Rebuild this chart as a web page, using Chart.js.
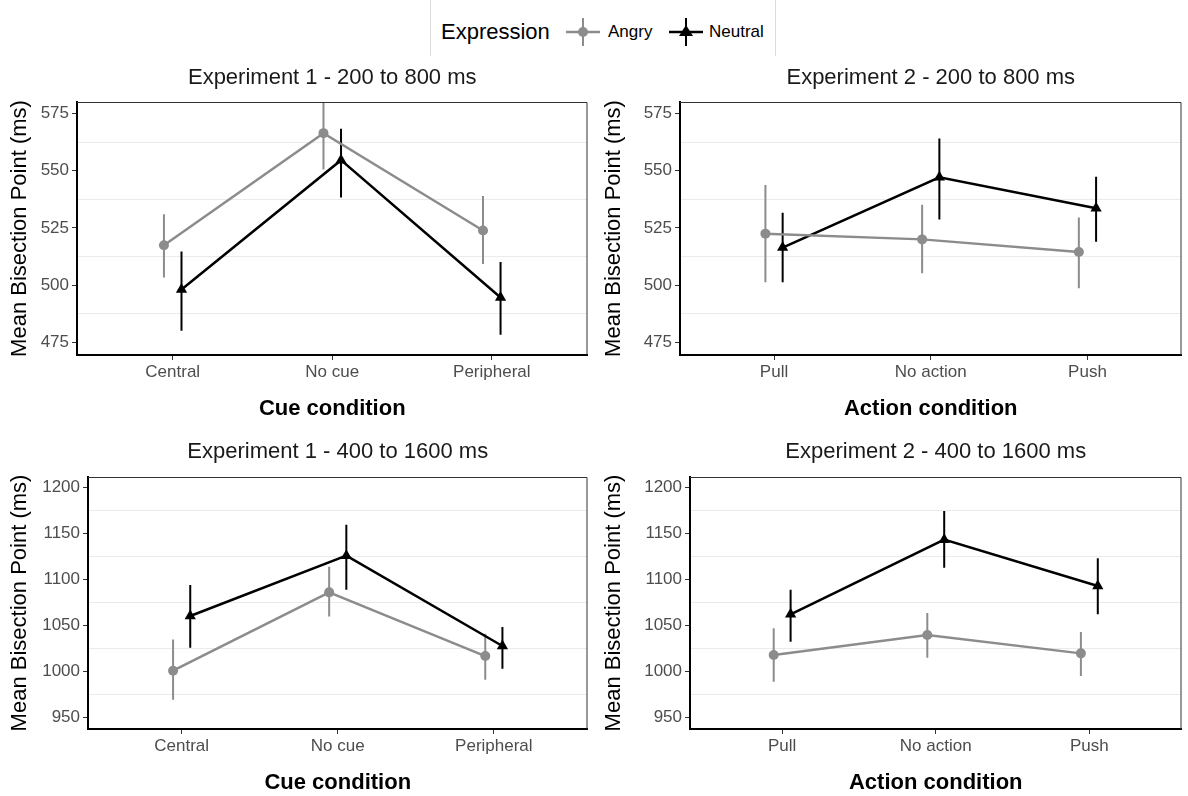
<!DOCTYPE html>
<html>
<head>
<meta charset="utf-8">
<script src="https://cdn.jsdelivr.net/npm/chart.js@4.4.1/dist/chart.umd.min.js"></script>
<style>
  body { margin: 0; background: #fff; width: 1188px; height: 796px; position: relative; overflow: hidden; font-family: "Liberation Sans", Arial, sans-serif; }
  canvas { position: absolute; }
  #legend { position: absolute; left: 430px; top: 0; width: 344px; height: 56px; border-left: 1px solid #dcdcdc; border-right: 1px solid #dcdcdc; }
  .lg { position: absolute; white-space: nowrap; color: #000; }
</style>
</head>
<body>

<div id="legend">
  <span class="lg" style="left:10px;top:19px;font-size:22px;">Expression</span>
  <svg class="lg" style="left:134px;top:16px" width="36" height="32">
    <line x1="1" y1="16" x2="35" y2="16" stroke="#8c8c8c" stroke-width="2.5"/>
    <line x1="18" y1="2" x2="18" y2="30" stroke="#8c8c8c" stroke-width="2"/>
    <circle cx="18" cy="16" r="5" fill="#8c8c8c"/>
  </svg>
  <span class="lg" style="left:177px;top:22px;font-size:17px;">Angry</span>
  <svg class="lg" style="left:237px;top:16px" width="36" height="32">
    <line x1="1" y1="16" x2="35" y2="16" stroke="#000" stroke-width="2.5"/>
    <line x1="18" y1="2" x2="18" y2="30" stroke="#000" stroke-width="2"/>
    <polygon points="18,9 25,20 11,20" fill="#000"/>
  </svg>
  <span class="lg" style="left:278px;top:22px;font-size:17px;">Neutral</span>
</div>

<canvas id="c1" width="594" height="375" style="left:0;top:50px"></canvas>
<canvas id="c2" width="594" height="375" style="left:594px;top:50px"></canvas>
<canvas id="c3" width="594" height="371" style="left:0;top:425px"></canvas>
<canvas id="c4" width="594" height="371" style="left:594px;top:425px"></canvas>

<script>
// Category labels
const cueLabels = ["Central", "No cue", "Peripheral"];
const actionLabels = ["Pull", "No action", "Push"];

// Y tick labels
const shortTicks = [475, 500, 525, 550, 575];
const longTicks = [950, 1000, 1050, 1100, 1150, 1200];

// Experiment 1 - 200 to 800 ms
const e1ShortAngry = [517.4, 566.4, 523.9];
const e1ShortAngryLo = [503.4, 550.5, 509.2];
const e1ShortAngryHi = [531.0, 582.3, 538.9];
const e1ShortNeutral = [498.1, 554.6, 494.6];
const e1ShortNeutralLo = [480.1, 538.3, 478.3];
const e1ShortNeutralHi = [514.7, 568.3, 510.1];

// Experiment 2 - 200 to 800 ms
const e2ShortAngry = [522.5, 520.0, 514.5];
const e2ShortAngryLo = [501.3, 505.2, 498.7];
const e2ShortAngryHi = [543.8, 535.1, 529.6];
const e2ShortNeutral = [516.4, 547.1, 533.6];
const e2ShortNeutralLo = [501.3, 528.7, 519.0];
const e2ShortNeutralHi = [531.6, 564.1, 547.3];

// Experiment 1 - 400 to 1600 ms
const e1LongAngry = [1001.1, 1086.2, 1017.0];
const e1LongAngryLo = [969.6, 1060.1, 991.3];
const e1LongAngryHi = [1035.1, 1114.0, 1041.3];
const e1LongNeutral = [1060.5, 1126.1, 1027.9];
const e1LongNeutralLo = [1026.1, 1089.1, 1003.3];
const e1LongNeutralHi = [1094.2, 1159.8, 1048.6];

// Experiment 2 - 400 to 1600 ms
const e2LongAngry = [1018.1, 1039.9, 1019.9];
const e2LongAngryLo = [989.1, 1015.2, 995.3];
const e2LongAngryHi = [1047.1, 1063.8, 1043.1];
const e2LongNeutral = [1062.3, 1143.5, 1093.1];
const e2LongNeutralLo = [1032.6, 1113.0, 1062.3];
const e2LongNeutralHi = [1089.1, 1174.6, 1123.2];

const FONT = '"Liberation Sans", Arial, sans-serif';
const GREY = '#8c8c8c';
const dodge = 0.055;

// vertical error bars, drawn under the lines
const errorBars = {
    id: 'errorBars',
    beforeDatasetsDraw(chart) {
        const { ctx, chartArea, scales } = chart;
        ctx.save();
        ctx.beginPath();
        ctx.rect(chartArea.left, chartArea.top, chartArea.width, chartArea.height);
        ctx.clip();
        chart.data.datasets.forEach(ds => {
            ctx.strokeStyle = ds.borderColor;
            ctx.lineWidth = 2;
            ds.data.forEach((p, i) => {
                const px = scales.x.getPixelForValue(p.x);
                ctx.beginPath();
                ctx.moveTo(px, scales.y.getPixelForValue(ds.lo[i]));
                ctx.lineTo(px, scales.y.getPixelForValue(ds.hi[i]));
                ctx.stroke();
            });
        });
        ctx.restore();
    }
};

// panel frame (top/right) and panel title
const panelDeco = {
    id: 'panelDeco',
    afterDraw(chart, args, opts) {
        const { ctx, chartArea: a } = chart;
        ctx.save();
        ctx.strokeStyle = '#333';
        ctx.lineWidth = 1;
        ctx.beginPath();
        ctx.moveTo(a.left, a.top + 0.5);
        ctx.lineTo(a.right - 0.5, a.top + 0.5);
        ctx.lineTo(a.right - 0.5, a.bottom);
        ctx.stroke();
        ctx.fillStyle = '#1a1a1a';
        ctx.font = '22px ' + FONT;
        ctx.textAlign = 'center';
        ctx.textBaseline = 'middle';
        ctx.fillText(opts.text, (a.left + a.right) / 2, opts.y);
        ctx.restore();
    }
};

function makePanel(id, p) {
    const majors = p.ticks;
    const all = [];
    majors.forEach((v, i) => {
        all.push(v);
        if (i < majors.length - 1) all.push((v + majors[i + 1]) / 2);
    });
    const isMajor = v => majors.includes(v);

    new Chart(document.getElementById(id), {
        type: 'line',
        data: {
            datasets: [
                {
                    label: 'Angry',
                    data: p.angry.map((v, i) => ({ x: i + 1 - dodge, y: v })),
                    lo: p.angryLo, hi: p.angryHi,
                    borderColor: GREY, backgroundColor: GREY,
                    borderWidth: 2.5, pointStyle: 'circle', pointRadius: 5, pointBorderWidth: 0
                },
                {
                    label: 'Neutral',
                    data: p.neutral.map((v, i) => ({ x: i + 1 + dodge, y: v })),
                    lo: p.neutralLo, hi: p.neutralHi,
                    borderColor: '#000', backgroundColor: '#000',
                    borderWidth: 2.5, pointStyle: 'triangle', pointRadius: 6.5, pointBorderWidth: 0
                }
            ]
        },
        options: {
            responsive: false,
            animation: false,
            devicePixelRatio: 1,
            layout: { padding: { left: 0, top: 52, right: p.padRight, bottom: 0 } },
            plugins: {
                legend: { display: false },
                tooltip: { enabled: false },
                panelDeco: { text: p.title, y: p.titleY }
            },
            scales: {
                x: {
                    type: 'linear', min: 0.4, max: 3.6,
                    afterBuildTicks: s => { s.ticks = [1, 2, 3].map(v => ({ value: v })); },
                    afterFit: s => { s.height = p.xHeight; },
                    ticks: {
                        autoSkip: false, maxRotation: 0, padding: 2,
                        color: '#4d4d4d', font: { family: FONT, size: 17 },
                        callback: v => p.labels[v - 1]
                    },
                    grid: { drawOnChartArea: false, tickLength: 5, tickColor: '#333', tickWidth: 1 },
                    border: { color: '#000', width: 2 },
                    title: {
                        display: true, text: p.xTitle, color: '#000',
                        font: { family: FONT, size: 22, weight: 'bold' },
                        padding: { top: 0, bottom: p.xTitlePad }
                    }
                },
                y: {
                    min: p.yMin, max: p.yMax,
                    afterBuildTicks: s => { s.ticks = all.map(v => ({ value: v })); },
                    afterFit: s => { s.width = p.yWidth; },
                    ticks: {
                        autoSkip: false, padding: 3,
                        color: '#4d4d4d', font: { family: FONT, size: 17 },
                        callback: v => isMajor(v) ? String(v) : ''
                    },
                    grid: {
                        tickLength: 5,
                        color: c => isMajor(c.tick.value) ? 'rgba(0,0,0,0)' : '#ebebeb',
                        tickColor: c => isMajor(c.tick.value) ? '#333' : 'rgba(0,0,0,0)',
                        lineWidth: 1
                    },
                    border: { color: '#000', width: 2 },
                    title: {
                        display: true, text: 'Mean Bisection Point (ms)', color: '#000',
                        font: { family: FONT, size: 22 },
                        padding: { top: 7, bottom: 0 }
                    }
                }
            }
        },
        plugins: [errorBars, panelDeco]
    });
}

makePanel('c1', {
    title: 'Experiment 1 - 200 to 800 ms', titleY: 28,
    labels: cueLabels, xTitle: 'Cue condition',
    ticks: shortTicks, yMin: 469.5, yMax: 580,
    angry: e1ShortAngry, angryLo: e1ShortAngryLo, angryHi: e1ShortAngryHi,
    neutral: e1ShortNeutral, neutralLo: e1ShortNeutralLo, neutralHi: e1ShortNeutralHi,
    yWidth: 77, xHeight: 70, padRight: 3, xTitlePad: 3
});
makePanel('c2', {
    title: 'Experiment 2 - 200 to 800 ms', titleY: 28,
    labels: actionLabels, xTitle: 'Action condition',
    ticks: shortTicks, yMin: 469.5, yMax: 580,
    angry: e2ShortAngry, angryLo: e2ShortAngryLo, angryHi: e2ShortAngryHi,
    neutral: e2ShortNeutral, neutralLo: e2ShortNeutralLo, neutralHi: e2ShortNeutralHi,
    yWidth: 86, xHeight: 70, padRight: 2, xTitlePad: 3
});
makePanel('c3', {
    title: 'Experiment 1 - 400 to 1600 ms', titleY: 27,
    labels: cueLabels, xTitle: 'Cue condition',
    ticks: longTicks, yMin: 937.7, yMax: 1211.6,
    angry: e1LongAngry, angryLo: e1LongAngryLo, angryHi: e1LongAngryHi,
    neutral: e1LongNeutral, neutralLo: e1LongNeutralLo, neutralHi: e1LongNeutralHi,
    yWidth: 88, xHeight: 67, padRight: 3, xTitlePad: 0
});
makePanel('c4', {
    title: 'Experiment 2 - 400 to 1600 ms', titleY: 27,
    labels: actionLabels, xTitle: 'Action condition',
    ticks: longTicks, yMin: 937.7, yMax: 1211.6,
    angry: e2LongAngry, angryLo: e2LongAngryLo, angryHi: e2LongAngryHi,
    neutral: e2LongNeutral, neutralLo: e2LongNeutralLo, neutralHi: e2LongNeutralHi,
    yWidth: 96, xHeight: 67, padRight: 2, xTitlePad: 0
});
</script>
</body>
</html>
